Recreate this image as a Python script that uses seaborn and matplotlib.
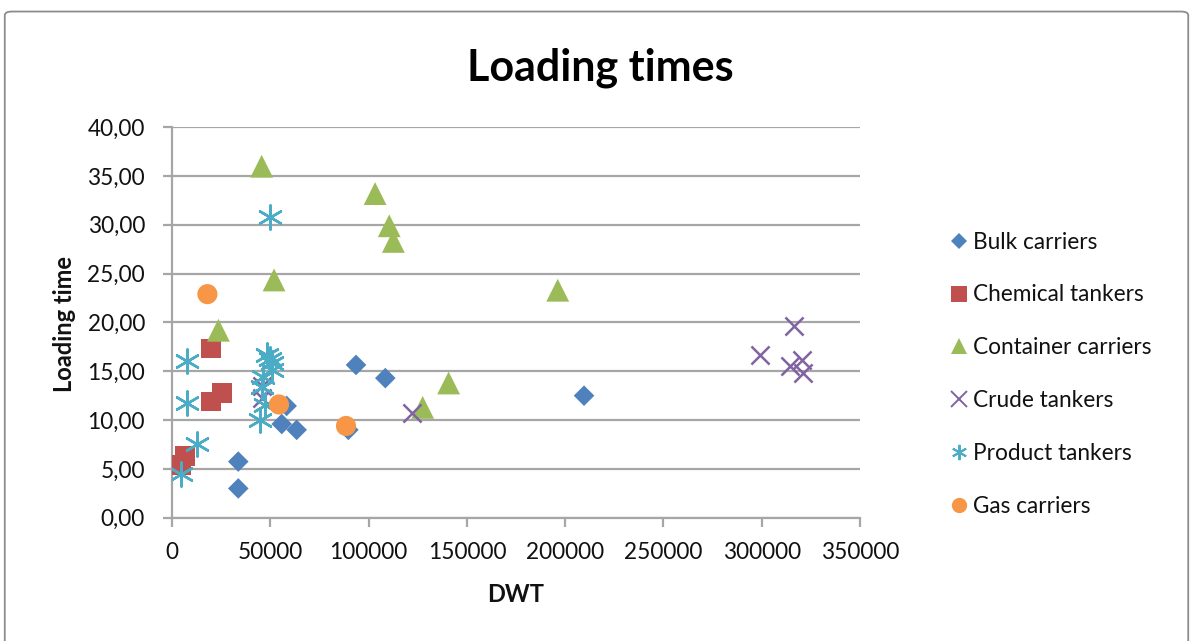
import matplotlib
matplotlib.use("Agg")
import matplotlib.pyplot as plt
import seaborn as sns
import pandas as pd
from matplotlib.ticker import FuncFormatter
from matplotlib.patches import FancyBboxPatch
from matplotlib.lines import Line2D

# ---- data ----
bulk_dwt = [33700, 33700, 55800, 63400, 58300, 89700, 93600, 108500, 209600]
bulk_time = [5.75, 3.0, 9.6, 9.0, 11.45, 9.0, 15.65, 14.3, 12.5]

chem_dwt = [4900, 6600, 19700, 25400, 19700]
chem_time = [5.4, 6.3, 11.9, 12.8, 17.35]

container_dwt = [23600, 45600, 51900, 103300, 110500, 112600, 127500, 140700, 196200]
container_time = [19.2, 36.0, 24.35, 33.2, 29.9, 28.3, 11.3, 13.8, 23.3]

crude_dwt = [46000, 46000, 121900, 299100, 316400, 314400, 320300, 321200]
crude_time = [13.5, 12.3, 10.7, 16.7, 19.6, 15.5, 16.2, 14.8]

product_dwt = [4400, 7500, 7800, 12600, 44800, 46000, 46500, 47300, 48200, 49900, 50700, 51000, 50000]
product_time = [4.5, 16.1, 11.8, 7.6, 10.0, 13.4, 14.45, 11.5, 16.7, 30.8, 15.8, 15.1, 16.3]

gas_dwt = [18000, 54400, 88500]
gas_time = [22.9, 11.6, 9.4]

series_names = ["Bulk carriers", "Chemical tankers", "Container carriers",
                "Crude tankers", "Product tankers", "Gas carriers"]
x_ticks = [0, 50000, 100000, 150000, 200000, 250000, 300000, 350000]
y_ticks = [0, 5, 10, 15, 20, 25, 30, 35, 40]

# ---- style ----
sns.set_theme(style="white")
plt.rcParams["font.family"] = ["Lato", "DejaVu Sans"]

colors = ["#4F81BD", "#C0504D", "#9BBB59", "#8064A2", "#4BACC6", "#F79646"]
markers = ["D", "s", "^", "x", (6, 2, 0), "o"]
sizes = [110, 200, 270, 170, 300, 210]

fig = plt.figure(figsize=(11.93, 6.41), dpi=100)
ax = fig.add_axes([0.1442, 0.1923, 0.7209 - 0.1442, 0.8016 - 0.1923])

data = [(bulk_dwt, bulk_time), (chem_dwt, chem_time), (container_dwt, container_time),
        (crude_dwt, crude_time), (product_dwt, product_time), (gas_dwt, gas_time)]

grid_c = "#A6A6A6"
text_c = "#111111"
ax.set_axisbelow(True)
ax.yaxis.grid(True, color=grid_c, linewidth=1.6)
ax.xaxis.grid(False)

for (xs, ys), name, c, m, s in zip(data, series_names, colors, markers, sizes):
    df = pd.DataFrame({"DWT": xs, "Loading time": ys})
    filled = m not in ("x", (6, 2, 0))
    kw = dict(linewidth=0, edgecolor="none") if filled else dict(linewidth=1.8)
    sns.scatterplot(data=df, x="DWT", y="Loading time", marker=m, color=c, s=s,
                    ax=ax, legend=False, zorder=3, **kw)

ax.set_xlim(0, 350000)
ax.set_ylim(0, 40)
ax.set_xticks(x_ticks)
ax.set_yticks(y_ticks)
ax.xaxis.set_major_formatter(FuncFormatter(lambda v, p: f"{int(v)}"))
ax.yaxis.set_major_formatter(FuncFormatter(lambda v, p: f"{v:.2f}".replace(".", ",")))

for side in ["top", "right"]:
    ax.spines[side].set_visible(False)
for side in ["left", "bottom"]:
    ax.spines[side].set_color(grid_c)
    ax.spines[side].set_linewidth(1.6)

ax.tick_params(axis="both", which="major", length=6.5, width=1.6, color=grid_c,
               labelsize=16.3, labelcolor=text_c)
ax.tick_params(axis="x", pad=11, direction="out", bottom=True)
ax.tick_params(axis="y", pad=13, direction="out", left=True)

ax.set_xlabel("DWT", fontsize=17, fontweight="bold", color=text_c)
ax.set_ylabel("Loading time", fontsize=17, fontweight="bold", color=text_c)
ax.xaxis.set_label_coords(0.5, -0.197)
ax.xaxis.label.set_va("center")
ax.yaxis.set_label_coords(-0.157, 0.497)
ax.yaxis.label.set_va("center")
ax.yaxis.label.set_ha("center")

fig.text(0.503, 0.894, "Loading times", ha="center", va="center",
         fontsize=31, fontweight="bold", color="#000000")

handles = []
for name, c, m in zip(series_names, colors, markers):
    filled = m not in ("x", (6, 2, 0))
    if filled:
        h = Line2D([], [], linestyle="none", marker=m, color=c, markeredgewidth=0,
                   markersize=11 if m != "D" else 8.5)
    else:
        h = Line2D([], [], linestyle="none", marker=m, color=c, markeredgewidth=1.4,
                   markersize=11)
    handles.append(h)
leg = fig.legend(handles, series_names, loc="center left", bbox_to_anchor=(0.787, 0.416),
                 frameon=False, fontsize=16.3, labelspacing=1.41, handletextpad=0.1,
                 handlelength=1.0, borderaxespad=0)
for t in leg.get_texts():
    t.set_color(text_c)

border = FancyBboxPatch((0.004, -0.02), 0.992, 1.002, transform=fig.transFigure,
                        boxstyle="round,pad=0,rounding_size=0.006",
                        facecolor="none", edgecolor="#8c8c8c", linewidth=1.3)
fig.patches.append(border)

fig.savefig("out.png", dpi=100)
